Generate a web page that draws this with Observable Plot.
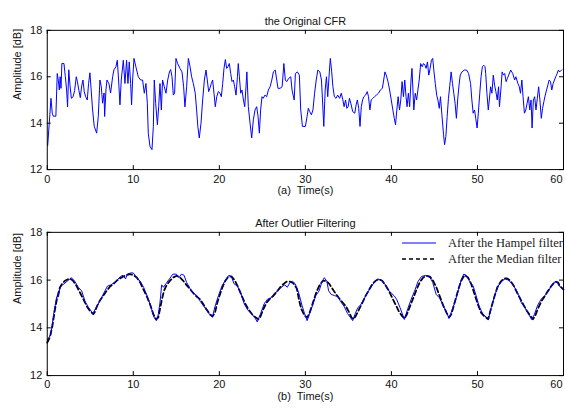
<!DOCTYPE html>
<html>
<head>
<meta charset="utf-8">
<script src="https://cdn.jsdelivr.net/npm/d3@7"></script>
<script src="https://cdn.jsdelivr.net/npm/@observablehq/plot@0.6"></script>
<style>
  html, body { margin: 0; padding: 0; background: #fff; overflow: hidden; }
  #wrap { position: relative; width: 565px; height: 409px; overflow: hidden; }
  #wrap svg { display: block; }
  #legend { position: absolute; left: 401px; top: 235px; font-family: "Liberation Serif", "Times New Roman", serif; font-size: 12.5px; color: #222; }
  #legend .row { display: flex; align-items: center; height: 16px; white-space: nowrap; }
  #legend svg { margin-right: 11px; }
</style>
</head>
<body>
<div id="wrap">
  <div id="top"></div>
  <div id="bottom"></div>
  <div id="legend"></div>
</div>
<script>
// ---- data ----
const xTicks = [0, 10, 20, 30, 40, 50, 60];
const yTicks = [12, 14, 16, 18];

const cfrTime = [0.05,0.3,0.43,0.58,0.7,1.0,1.16,1.28,1.4,1.5,1.6,1.7,1.94,2.1,2.25,2.36,2.5,2.64,2.8,3.0,3.18,3.37,3.5,3.68,3.84,4.0,4.15,4.3,4.46,4.65,4.8,4.96,5.1,5.27,5.46,5.74,5.93,6.12,6.28,6.43,6.6,6.67,6.82,6.94,7.17,7.36,7.6,7.75,7.98,8.14,8.29,8.45,8.6,8.84,9.03,9.22,9.38,9.53,9.69,9.8,9.92,10.08,10.3,10.58,10.85,11.08,11.28,11.47,11.63,11.74,11.94,12.17,12.33,12.44,12.6,12.8,12.95,13.1,13.26,13.4,13.6,13.8,14.0,14.2,14.34,14.5,14.65,14.8,14.96,15.15,15.43,15.66,15.85,16.0,16.2,16.4,16.6,16.78,16.98,17.2,17.36,17.5,17.67,17.87,18.06,18.26,18.45,18.6,18.76,18.9,19.07,19.22,19.38,19.53,19.7,19.88,20.08,20.23,20.39,20.54,20.7,20.85,21.0,21.16,21.32,21.47,21.63,21.78,21.94,22.1,22.2,22.33,22.48,22.63,22.8,22.95,23.1,23.2,23.37,23.57,23.76,23.95,24.15,24.34,24.5,24.65,24.8,24.96,25.1,25.3,25.5,25.7,25.9,26.1,26.28,26.5,26.67,26.82,27.05,27.3,27.5,27.67,27.83,28.06,28.3,28.45,28.7,28.84,29.07,29.3,29.46,29.66,30.0,30.2,30.34,30.5,30.7,30.88,31.07,31.26,31.45,31.68,31.87,31.99,32.14,32.3,32.45,32.6,32.8,32.9,33.06,33.2,33.37,33.56,33.75,33.98,34.17,34.36,34.5,34.67,34.82,34.97,35.12,35.28,35.5,35.74,35.9,36.04,36.2,36.35,36.5,36.65,36.8,37.0,37.19,37.34,37.5,37.65,37.84,38.03,38.26,38.5,38.72,38.95,39.1,39.25,39.4,39.6,39.79,39.98,40.17,40.33,40.48,40.63,40.78,40.94,41.09,41.24,41.4,41.55,41.7,41.82,41.97,42.12,42.28,42.39,42.5,42.6,42.77,42.93,43.08,43.23,43.4,43.58,43.73,43.9,44.03,44.19,44.34,44.5,44.65,44.8,44.95,45.1,45.26,45.4,45.56,45.7,45.87,46.06,46.18,46.33,46.48,46.63,46.79,46.94,47.1,47.25,47.4,47.55,47.7,47.86,48.0,48.2,48.47,48.74,48.97,49.2,49.35,49.5,49.66,49.8,49.96,50.1,50.27,50.42,50.57,50.73,50.88,50.96,51.1,51.26,51.38,51.53,51.68,51.84,51.99,52.14,52.3,52.45,52.56,52.72,52.87,53.02,53.17,53.33,53.48,53.63,53.86,54.1,54.32,54.47,54.7,54.86,55.0,55.16,55.3,55.46,55.62,55.77,55.92,56.08,56.23,56.35,56.5,56.65,56.8,56.96,57.11,57.26,57.42,57.57,57.72,57.88,58.03,58.18,58.34,58.49,58.64,58.8,58.95,59.1,59.26,59.41,59.56,59.8];
const cfrAmp = [13.04,14.36,15.07,14.43,14.3,14.3,16.14,15.86,15.43,16.0,15.5,16.57,16.57,16.0,15.43,14.7,16.3,15.64,15.07,15.14,15.4,16.0,15.8,15.4,15.1,15.6,15.86,15.36,15.14,15.0,15.7,16.17,15.43,14.57,13.86,13.57,14.29,15.86,15.57,14.86,15.3,14.29,15.43,15.86,15.7,15.3,16.0,16.3,16.43,16.71,15.86,14.79,15.86,16.71,15.71,16.71,15.71,16.64,15.71,14.79,15.86,16.79,16.43,16.0,15.86,15.86,15.29,15.71,14.86,13.57,13.0,12.86,13.86,15.86,14.86,13.93,14.71,15.71,14.57,15.86,15.57,15.29,15.86,16.21,16.31,16.0,15.21,15.29,16.79,16.57,16.36,16.21,15.57,14.7,15.57,16.79,16.43,16.0,15.71,15.29,14.57,13.86,13.36,14.0,15.0,15.86,16.29,15.86,15.36,15.5,15.71,15.86,15.29,14.71,15.14,15.36,15.29,15.14,15.71,16.36,16.74,16.36,16.43,16.57,16.14,15.79,15.86,15.57,15.21,16.0,16.57,16.0,15.29,15.43,15.0,14.71,15.57,16.21,14.71,14.0,13.36,14.14,14.57,14.71,14.29,13.57,14.57,15.14,15.07,15.21,15.14,15.43,15.57,15.86,16.21,16.29,15.86,15.5,15.5,15.57,16.57,15.86,15.79,15.93,16.0,15.43,15.0,16.14,16.21,16.07,14.57,13.86,13.86,14.29,14.64,14.5,14.36,14.57,15.29,15.86,16.29,16.21,15.86,15.0,13.86,15.43,16.0,15.14,16.29,16.79,16.21,15.57,15.14,15.07,15.21,15.07,15.29,15.0,14.71,15.0,14.64,14.71,15.07,14.86,14.5,14.43,14.79,15.0,14.64,13.86,14.71,15.0,15.14,15.21,15.36,15.14,14.57,15.0,15.07,15.14,15.21,15.29,15.43,15.5,15.86,16.21,16.07,15.79,15.43,15.0,14.57,14.21,13.93,14.57,15.14,14.57,15.0,15.79,15.14,15.86,15.14,14.71,15.29,14.71,15.86,16.36,15.43,14.57,15.29,15.0,15.43,15.86,16.57,16.43,16.57,16.5,16.36,16.64,16.07,16.36,16.71,16.79,16.21,15.71,15.21,15.0,14.64,15.14,14.36,13.5,13.07,13.43,14.29,15.07,15.64,16.21,15.71,15.29,14.86,14.21,15.0,15.64,16.07,16.21,16.29,16.29,16.14,15.71,15.0,14.43,14.57,14.21,13.79,14.43,15.29,16.0,16.43,16.5,16.43,16.14,15.29,14.57,15.0,15.57,15.29,16.07,15.64,15.36,15.0,15.57,14.71,15.43,16.21,16.07,16.14,15.79,15.93,16.07,16.29,16.14,15.86,16.0,15.71,15.57,15.29,15.86,15.14,14.43,14.57,14.86,15.14,14.57,15.0,13.79,15.0,15.14,14.57,15.07,15.57,15.0,14.21,14.64,14.93,15.21,15.43,15.64,15.86,15.79,15.43,15.71,15.86,16.0,16.14,16.29,16.21,16.3];

const hampelTime = [0,0.4,0.8,1.1,1.3,1.5,1.8,2.3,2.8,3.2,3.6,4.0,4.4,4.8,5.3,5.6,6.0,6.5,7.0,7.4,8.0,8.5,8.8,9.1,9.3,9.7,10.0,10.3,10.8,11.2,11.6,12.0,12.4,12.7,12.9,13.1,13.3,13.5,13.8,14.2,14.6,15.0,15.3,15.6,15.9,16.2,16.6,17.0,17.4,17.8,18.2,18.6,19.0,19.2,19.5,19.9,20.3,20.7,21.1,21.4,21.7,22.1,22.5,22.9,23.3,23.7,24.1,24.4,24.8,25.2,25.6,26.0,26.4,26.8,27.2,27.6,27.9,28.2,28.5,28.8,29.2,29.6,29.9,30.2,30.5,30.9,31.2,31.6,31.9,32.2,32.5,32.7,33.0,33.4,33.8,34.1,34.5,34.9,35.2,35.5,35.8,36.1,36.4,36.8,37.2,37.6,38.0,38.4,38.8,39.2,39.6,40.0,40.3,40.6,41.0,41.5,41.9,42.3,42.7,43.1,43.5,44.0,44.5,44.8,45.2,45.6,46.0,46.4,46.7,47.0,47.4,47.8,48.1,48.4,48.7,49.0,49.3,49.5,49.8,50.2,50.6,51.0,51.3,51.6,52.0,52.4,52.8,53.2,53.6,54.0,54.4,54.8,55.1,55.5,55.9,56.3,56.6,57.0,57.4,57.8,58.1,58.5,58.9,59.2,59.5,60];
const hampelAmp = [13.5,13.7,14.7,15.3,15.3,15.7,15.8,15.95,16.1,15.95,15.7,15.55,15.1,14.85,14.6,14.8,15.05,15.4,15.75,15.8,15.95,16.15,16.2,16.05,16.25,16.3,16.3,16.15,15.95,15.7,15.35,14.95,14.45,14.3,14.55,15.05,15.8,15.7,15.85,16.05,16.25,16.25,16.1,16.25,16.2,15.9,15.65,15.45,15.35,15.1,14.9,14.7,14.5,14.45,14.9,15.35,15.75,16.0,16.2,16.15,15.85,15.75,15.45,15.0,14.75,14.6,14.45,14.25,14.6,15.0,15.2,15.25,15.45,15.55,15.7,15.8,15.7,15.9,15.95,15.85,15.5,14.95,14.6,14.3,14.6,15.0,15.35,15.55,15.9,16.1,15.95,15.55,15.4,15.35,15.3,15.1,14.9,14.6,14.45,14.3,14.6,14.85,14.95,15.2,15.45,15.7,15.9,16.05,16.0,15.85,15.6,15.45,15.35,15.2,14.85,14.35,14.8,15.2,15.55,15.95,16.15,16.2,16.1,15.9,15.4,15.25,14.95,14.65,14.4,14.7,15.1,15.6,16.0,16.25,16.2,16.0,15.85,15.75,15.4,14.9,14.6,14.45,14.4,14.85,15.35,15.75,15.95,16.05,16.0,15.85,15.65,15.35,15.05,14.85,14.6,14.35,14.55,14.95,15.2,15.35,15.45,15.7,15.9,15.95,15.75,15.6];

const medianTime = [0,0.3,0.6,0.9,1.16,1.47,1.7,2.05,2.44,2.75,3.0,3.4,3.8,4.2,4.57,4.96,5.35,5.5,5.8,6.1,6.5,6.9,7.3,7.67,8.06,8.45,8.84,9.22,9.6,10.0,10.4,10.8,11.16,11.55,11.94,12.33,12.63,12.9,13.1,13.33,13.57,13.88,14.26,14.65,15.04,15.43,15.81,16.2,16.6,16.98,17.36,17.75,18.14,18.5,18.9,19.2,19.5,19.77,20.08,20.39,20.7,21.05,21.43,21.82,22.2,22.6,22.98,23.37,23.95,24.53,24.73,25.1,25.5,25.9,26.28,26.67,27.05,27.44,27.8,28.2,28.6,29.0,29.3,29.54,29.92,30.23,30.5,30.88,31.26,31.65,32.03,32.41,32.8,33.18,33.56,33.94,34.33,34.71,35.1,35.36,35.6,35.86,36.25,36.63,37.0,37.4,37.78,38.16,38.55,38.93,39.3,39.7,40.08,40.46,40.84,41.23,41.53,41.8,42.18,42.56,42.94,43.33,43.7,44.1,44.47,44.85,45.23,45.6,46.0,46.4,46.7,46.96,47.35,47.73,48.1,48.5,48.9,49.28,49.66,50.04,50.42,50.8,51.25,51.55,51.94,52.3,52.7,53.1,53.45,53.83,54.22,54.6,55.0,55.37,55.75,56.14,56.44,56.7,57.08,57.46,57.84,58.2,58.6,59.0,59.37,59.56,60];
const medianAmp = [13.38,13.6,14.08,14.78,15.27,15.69,15.83,15.97,16.04,16.04,15.97,15.76,15.48,15.2,14.92,14.71,14.57,14.64,14.92,15.13,15.34,15.55,15.73,15.83,15.97,16.07,16.15,16.21,16.25,16.21,16.11,15.9,15.62,15.34,14.99,14.57,14.36,14.43,14.78,15.2,15.55,15.79,15.97,16.11,16.18,16.11,15.97,15.79,15.62,15.45,15.31,15.2,14.99,14.78,14.57,14.48,14.64,15.06,15.41,15.73,15.97,16.14,16.15,15.97,15.69,15.34,15.03,14.78,14.5,14.36,14.43,14.78,15.06,15.23,15.34,15.51,15.69,15.83,15.93,15.94,15.87,15.65,15.1,14.78,14.5,14.43,14.64,15.06,15.48,15.79,15.97,15.97,15.83,15.62,15.41,15.23,15.06,14.9,14.64,14.43,14.36,14.5,14.78,15.06,15.34,15.59,15.83,15.97,16.04,15.97,15.79,15.55,15.27,14.99,14.71,14.5,14.39,14.57,14.92,15.27,15.62,15.93,16.11,16.18,16.15,15.97,15.69,15.34,14.95,14.64,14.43,14.57,15.06,15.55,15.97,16.21,16.11,15.83,15.41,14.99,14.64,14.48,14.36,14.78,15.27,15.69,15.93,16.07,16.07,15.97,15.76,15.48,15.2,14.95,14.71,14.5,14.36,14.5,14.85,15.13,15.34,15.55,15.76,15.93,15.9,15.76,15.6];

const legendLabels = ["After the Hampel filter", "After the Median filter"];

// ---- helpers ----
const sansFont = "Liberation Sans, Arial, sans-serif";
const plotW = 519;

function panel({series, title, xLabel, height, marginTop, marginBottom, xPad}) {
  const plotH = height - marginTop - marginBottom;
  const innerTicks = xTicks.slice(0, -1);
  const lastTick = xTicks.slice(-1);
  return Plot.plot({
    width: 568, height,
    marginLeft: 47, marginRight: 2, marginTop, marginBottom,
    style: {fontFamily: sansFont, fontSize: "11px", color: "#111", background: "white", overflow: "visible"},
    x: {domain: [0, 60]},
    y: {domain: [12, 18]},
    marks: [
      ...series,
      Plot.frame({stroke: "#000", strokeWidth: 1}),
      // inward tick marks (MATLAB style)
      Plot.tickX(xTicks, {x: d => d, insetTop: plotH - 4, stroke: "#000"}),
      Plot.tickX(xTicks, {x: d => d, insetBottom: plotH - 4, stroke: "#000"}),
      Plot.tickY(yTicks, {y: d => d, insetRight: plotW - 4, stroke: "#000"}),
      Plot.tickY(yTicks, {y: d => d, insetLeft: plotW - 4, stroke: "#000"}),
      // tick labels
      Plot.axisX({ticks: innerTicks, anchor: "bottom", tickSize: 0, tickPadding: xPad, label: null, fontSize: 11}),
      Plot.axisX({ticks: lastTick, anchor: "bottom", tickSize: 0, tickPadding: xPad, label: null, fontSize: 11, textAnchor: "end", dx: -1}),
      Plot.axisY({ticks: yTicks, anchor: "left", tickSize: 0, tickPadding: 5, label: null, fontSize: 11, tickFormat: d3.format("d")}),
      Plot.text([title], {frameAnchor: "top", dy: -13, fontSize: 11, fill: "#111"}),
      Plot.text([xLabel], {frameAnchor: "bottom", dy: 25, fontSize: 11, fill: "#111"}),
      Plot.text(["Amplitude [dB]"], {frameAnchor: "left", dx: -30, rotate: -90, fontSize: 11, fill: "#111"})
    ]
  });
}

const cfrData = cfrTime.map((t, i) => ({t, v: cfrAmp[i]}));
const hampelData = hampelTime.map((t, i) => ({t, v: hampelAmp[i]}));
const medianData = medianTime.map((t, i) => ({t, v: medianAmp[i]}));

document.getElementById("top").append(panel({
  series: [Plot.line(cfrData, {x: "t", y: "v", stroke: "#0000ff", strokeWidth: 1})],
  title: "the Original CFR", xLabel: "(a)  Time(s)",
  height: 205, marginTop: 30, marginBottom: 35, xPad: 6
}));

document.getElementById("bottom").append(panel({
  series: [
    Plot.line(medianData, {x: "t", y: "v", stroke: "#000", strokeWidth: 1.8, strokeDasharray: "5,3"}),
    Plot.line(hampelData, {x: "t", y: "v", stroke: "#0000ff", strokeWidth: 1})
  ],
  title: "After Outlier Filtering", xLabel: "(b)  Time(s)",
  height: 204, marginTop: 28, marginBottom: 32, xPad: 5
}));

// legend
const legend = document.getElementById("legend");
const styles = [
  {stroke: "#0000ff", width: 1, dash: ""},
  {stroke: "#000", width: 1.6, dash: "4,3"}
];
legendLabels.forEach((label, i) => {
  const row = document.createElement("div");
  row.className = "row";
  const s = styles[i];
  row.innerHTML = `<svg width="36" height="10"><line x1="1" x2="35" y1="5" y2="5" stroke="${s.stroke}" stroke-width="${s.width}" stroke-dasharray="${s.dash}"/></svg><span>${label}</span>`;
  legend.append(row);
});
</script>
</body>
</html>
